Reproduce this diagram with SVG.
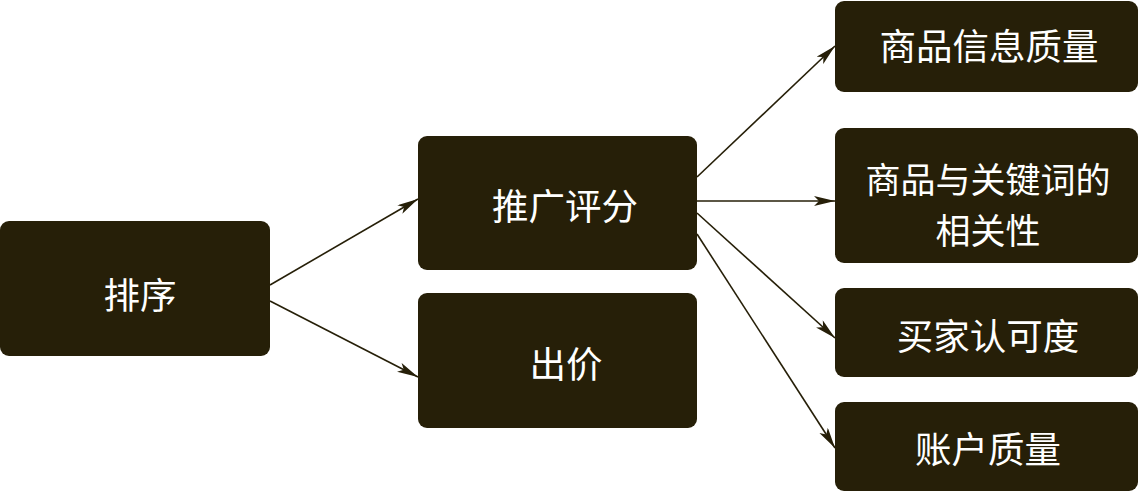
<svg xmlns="http://www.w3.org/2000/svg" width="1139" height="493" viewBox="0 0 1139 493">
<style>
.node rect{fill:#261f08;}
.node text{fill:#ffffff;font-family:"Noto Sans CJK SC","Noto Sans",sans-serif;font-size:36.5px;text-anchor:middle;}
.node text.two{font-size:35px;}
.conn line{stroke:#261f08;stroke-width:1.6;fill:none;marker-end:url(#ah);}
</style>
<defs>
<marker id="ah" markerUnits="userSpaceOnUse" markerWidth="24" markerHeight="11" refX="21" refY="5" orient="auto">
<path d="M0,0 L21,5 L0,10 L5,5 z" fill="#261f08"/>
</marker>
</defs>
<rect width="1139" height="493" fill="#ffffff"/>
<g id="connectors" class="conn">
<line x1="270" y1="285" x2="418" y2="199"/>
<line x1="270" y1="301" x2="418" y2="377"/>
<line x1="697" y1="177" x2="835" y2="46"/>
<line x1="697" y1="201" x2="835" y2="201"/>
<line x1="697" y1="213" x2="835" y2="338"/>
<line x1="697" y1="234" x2="835" y2="448"/>
</g>
<g id="n_sort" class="node"><rect x="0" y="221" width="270" height="135" rx="9"/><text x="140" y="309">排序</text></g>
<g id="n_promo" class="node"><rect x="418" y="136" width="279" height="134" rx="9"/><text x="565" y="220">推广评分</text></g>
<g id="n_bid" class="node"><rect x="418" y="293" width="279" height="135" rx="9"/><text x="566" y="378">出价</text></g>
<g id="n_info" class="node"><rect x="835" y="1" width="303" height="91" rx="9"/><text x="989" y="60">商品信息质量</text></g>
<g id="n_rel" class="node"><rect x="835" y="128" width="303" height="135" rx="9"/><text class="two" x="988" y="193"><tspan x="988" y="193">商品与关键词的</tspan><tspan x="988" y="244">相关性</tspan></text></g>
<g id="n_buyer" class="node"><rect x="835" y="288" width="303" height="89" rx="9"/><text x="988" y="350">买家认可度</text></g>
<g id="n_acct" class="node"><rect x="835" y="402" width="303" height="89" rx="9"/><text x="988" y="463">账户质量</text></g>
</svg>
